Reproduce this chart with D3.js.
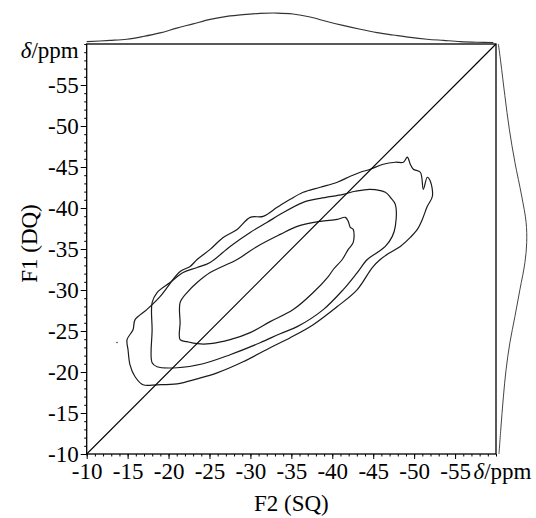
<!DOCTYPE html>
<html><head><meta charset="utf-8">
<script src="https://cdn.jsdelivr.net/npm/d3@7"></script>
<style>body{margin:0;background:#fff}svg{display:block}</style>
</head><body>
<svg id="chart" width="536" height="518"></svg>
<script>
// ---- data (ppm) ----
const majorTicks = [-10,-15,-20,-25,-30,-35,-40,-45,-50,-55,-60];
const majorLabels = ["-10","-15","-20","-25","-30","-35","-40","-45","-50","-55","δ/ppm"];
const minorTicks = [-10,-11,-12,-13,-14,-15,-16,-17,-18,-19,-20,-21,-22,-23,-24,-25,-26,-27,-28,-29,-30,-31,-32,-33,-34,-35,-36,-37,-38,-39,-40,-41,-42,-43,-44,-45,-46,-47,-48,-49,-50,-51,-52,-53,-54,-55,-56,-57,-58,-59,-60];
const xTitle = "F2 (SQ)";
const yTitle = "F1 (DQ)";
const diagonal = [[-10,-10],[-60,-60]];

// contours: [F2 ppm, F1 ppm]
const outerContour = [
[-14.93,-23.94],[-15.66,-25.16],[-15.91,-26.39],[-17.34,-27.61],[-18.96,-29.20],[-21.41,-32.25],[-22.63,-32.87],
[-23.49,-33.72],[-25.08,-34.95],[-26.67,-36.41],[-28.38,-37.39],[-29.97,-38.86],[-31.56,-38.98],[-33.27,-40.08],
[-34.86,-41.06],[-36.45,-41.92],[-38.53,-42.53],[-40.61,-43.14],[-42.20,-43.87],[-43.42,-44.36],[-44.64,-44.73],
[-46.23,-45.34],[-47.70,-45.58],[-48.68,-45.58],[-49.17,-46.20],[-49.53,-45.34],[-49.90,-44.73],[-50.76,-44.36],
[-51.12,-42.28],[-51.61,-43.75],[-51.98,-43.26],[-52.23,-41.43],[-51.61,-40.20],[-51.00,-38.61],[-50.39,-37.39],
[-49.53,-36.41],[-48.31,-35.31],[-47.09,-34.58],[-45.86,-33.72],[-44.89,-32.74],[-43.05,-30.05],[-40.61,-27.98],
[-37.67,-25.77],[-34.86,-24.18],[-32.41,-22.96],[-29.11,-21.25],[-25.93,-19.90],[-23.49,-19.17],[-21.04,-18.56],
[-18.60,-18.44],[-16.88,-18.44],[-15.91,-19.42],[-15.29,-20.88],[-15.05,-22.72]
];
const middleContour = [
[-17.99,-21.13],[-17.99,-25.16],[-17.99,-28.46],[-18.60,-29.69],[-20.19,-30.91],[-21.78,-32.13],[-23.49,-32.74],
[-25.08,-33.36],[-27.52,-35.31],[-29.97,-37.02],[-32.05,-38.25],[-33.64,-39.23],[-36.45,-40.69],[-38.53,-41.18],
[-41.34,-41.67],[-42.81,-42.04],[-44.64,-42.28],[-46.48,-41.92],[-47.09,-41.30],[-47.70,-40.45],[-47.70,-37.76],
[-47.33,-36.54],[-46.48,-35.31],[-45.50,-34.58],[-44.28,-33.72],[-43.05,-32.13],[-41.34,-30.05],[-38.90,-27.61],
[-35.72,-25.53],[-33.64,-24.67],[-31.19,-23.57],[-27.52,-22.11],[-24.22,-21.01],[-21.04,-20.52],[-18.60,-20.64]
];
const innerContour = [
[-21.41,-23.94],[-21.41,-26.02],[-21.41,-28.46],[-22.26,-29.69],[-23.49,-30.91],[-25.08,-32.13],[-28.38,-33.72],
[-30.82,-35.31],[-33.64,-36.78],[-35.72,-37.76],[-38.53,-38.37],[-40.61,-38.61],[-41.59,-38.86],[-41.95,-38.37],
[-42.20,-37.64],[-42.56,-37.39],[-42.56,-35.80],[-41.95,-34.95],[-41.22,-33.72],[-40.12,-32.50],[-39.51,-31.64],
[-37.67,-29.69],[-35.23,-27.61],[-32.41,-26.14],[-29.97,-24.80],[-27.52,-23.94],[-25.08,-23.45],[-23.49,-23.45],
[-22.26,-23.70]
];
const isolatedPoints = [[-13.7,-23.6]];

// projections: [ppm, relative intensity]
const topProjection = [
[-10.0,0.03],[-12.85,0.07],[-14.89,0.11],[-16.88,0.20],[-18.96,0.32],[-21.0,0.48],[-23.0,0.62],[-25.08,0.77],
[-27.12,0.87],[-29.1,0.93],[-31.19,0.97],[-33.23,0.98],[-35.2,0.95],[-37.3,0.85],[-39.35,0.70],[-41.3,0.57],
[-43.42,0.44],[-45.46,0.33],[-47.45,0.25],[-49.53,0.17],[-51.58,0.11],[-53.57,0.07],[-55.65,0.03],[-57.69,0.01],[-59.68,0.0]
];
const rightProjection = [
[-60.0,0.03],[-57.81,0.11],[-53.69,0.25],[-49.62,0.40],[-45.58,0.59],[-41.46,0.82],[-38.25,0.97],[-35.80,0.99],
[-33.36,0.93],[-30.05,0.76],[-26.75,0.59],[-23.57,0.42],[-20.27,0.29],[-16.97,0.20],[-12.93,0.11],[-10.0,0.05]
];

// ---- layout ----
const L = 86.7, R = 496, T = 44, B = 454;
const FS = 23;
const svg = d3.select("#chart");
const x = d3.scaleLinear().domain([-10,-60]).range([L,R]);
const y = d3.scaleLinear().domain([-10,-60]).range([B,T]);
const topI = d3.scaleLinear().domain([0,1]).range([42.5,12.5]);
const rightI = d3.scaleLinear().domain([0,1]).range([497.5,527]);
const serif = "'Liberation Serif','Times New Roman',serif";

// projections
svg.append("path").datum(topProjection)
  .attr("d", d3.line().x(d=>x(d[0])).y(d=>topI(d[1])).curve(d3.curveCatmullRom))
  .attr("fill","none").attr("stroke","#333").attr("stroke-width",1.1);
svg.append("path").datum(rightProjection)
  .attr("d", d3.line().x(d=>rightI(d[1])).y(d=>y(d[0])).curve(d3.curveCatmullRom))
  .attr("fill","none").attr("stroke","#444").attr("stroke-width",1);

// contours
const cl = d3.line().x(d=>x(d[0])).y(d=>y(d[1])).curve(d3.curveCatmullRomClosed.alpha(0.5));
[outerContour, middleContour, innerContour].forEach(c=>{
  svg.append("path").datum(c).attr("d", cl).attr("fill","none")
    .attr("stroke","#1a1a1a").attr("stroke-width",1.2).attr("stroke-linejoin","round");
});
svg.selectAll("circle.iso").data(isolatedPoints).join("circle").attr("class","iso")
  .attr("cx",d=>x(d[0])).attr("cy",d=>y(d[1])).attr("r",0.8).attr("fill","#333");

// diagonal
svg.append("path").datum(diagonal)
  .attr("d", d3.line().x(d=>x(d[0])).y(d=>y(d[1])))
  .attr("stroke","#000").attr("stroke-width",1.1);

// frame
svg.append("rect").attr("x",x(-10)).attr("y",y(-60))
  .attr("width",x(-60)-x(-10)).attr("height",y(-10)-y(-60))
  .attr("fill","none").attr("stroke","#000").attr("stroke-width",1.3);

// axes
function styleAxis(g){ g.select(".domain").remove(); g.selectAll("line").attr("stroke","#000").attr("stroke-width",1); }
const gxm = svg.append("g").attr("transform",`translate(0,${B})`)
  .call(d3.axisBottom(x).tickValues(minorTicks).tickSize(2.5).tickFormat(""));
styleAxis(gxm);
const gx = svg.append("g").attr("transform",`translate(0,${B})`)
  .call(d3.axisBottom(x).tickValues(majorTicks).tickSize(5).tickFormat((d,i)=>majorLabels[i]));
styleAxis(gx);
gx.selectAll(".tick").filter(d=>d===-60).select("line").remove();
gx.selectAll("text").attr("font-family",serif).attr("font-size",FS).attr("fill","#000")
  .attr("y",9).attr("dy","0.71em");

const gym = svg.append("g").attr("transform",`translate(${L},0)`)
  .call(d3.axisLeft(y).tickValues(minorTicks).tickSize(2.5).tickFormat(""));
styleAxis(gym);
const gy = svg.append("g").attr("transform",`translate(${L},0)`)
  .call(d3.axisLeft(y).tickValues(majorTicks).tickSize(6).tickFormat((d,i)=>majorLabels[i]));
styleAxis(gy);
gy.selectAll(".tick").filter(d=>d===-60).select("line").remove();
gy.selectAll("text").attr("font-family",serif).attr("font-size",FS).attr("fill","#000")
  .attr("x",-8);

// δ/ppm labels: italic delta
function deltaLabel(t){
  t.text(null);
  t.append("tspan").attr("font-style","italic").text("δ");
  t.append("tspan").text("/ppm");
}
gx.selectAll(".tick").filter(d=>d===-60).select("text").call(deltaLabel)
  .attr("text-anchor","start").attr("x",-23);
gy.selectAll(".tick").filter(d=>d===-60).select("text").call(deltaLabel).attr("dy","0.58em");

// titles
svg.append("text").attr("transform",`translate(${(L+R)/2},511)`)
  .attr("text-anchor","middle").attr("font-family",serif).attr("font-size",FS).text(xTitle);
svg.append("text").attr("transform",`translate(37,${243.5}) rotate(-90)`)
  .attr("text-anchor","middle").attr("font-family",serif).attr("font-size",FS).text(yTitle);
</script>
</body></html>
